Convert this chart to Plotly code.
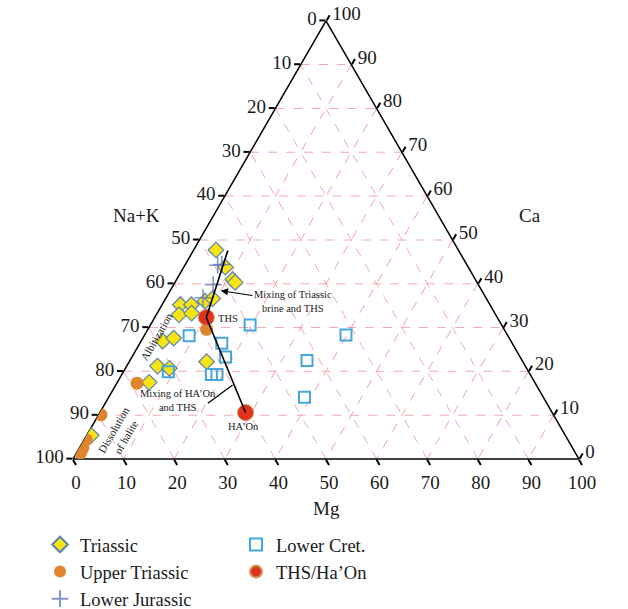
import math
import plotly.graph_objects as go

# ---- sample compositions (% of Ca, Na+K, Mg) ----
tri_ca = [47.7, 43.8, 40.9, 40.3, 35.2, 35.2, 32.9, 33.3, 36.0, 36.6, 26.9, 27.6, 22.2, 21.2, 20.7, 17.5, 5.4]
tri_nak = [47.9, 48.0, 48.0, 47.8, 61.2, 59.0, 62.6, 59.9, 55.9, 54.1, 68.8, 66.3, 62.5, 72.7, 70.6, 76.2, 93.7]
tri_mg = [4.4, 8.2, 11.1, 11.9, 3.6, 5.8, 4.5, 6.8, 8.1, 9.3, 4.3, 6.1, 15.3, 6.1, 8.7, 6.3, 0.9]

utri_ca = [29.6, 17.3, 10.1, 4.4, 2.5, 1.4]
utri_nak = [58.8, 78.7, 89.4, 95.2, 96.8, 97.8]
utri_mg = [11.6, 4.0, 0.5, 0.4, 0.7, 0.8]

ljur_ca = [44.2, 44.4, 39.8, 36.8]
ljur_nak = [49.3, 48.4, 52.4, 55.9]
ljur_mg = [6.5, 7.2, 7.8, 7.3]

lcret_ca = [28.1, 26.4, 23.3, 19.3, 19.3, 19.9, 30.6, 28.3, 22.5, 14.1]
lcret_nak = [63.0, 57.4, 58.2, 63.0, 61.9, 71.2, 49.7, 31.9, 42.5, 47.2]
lcret_mg = [8.9, 16.2, 18.5, 17.7, 18.8, 8.9, 19.7, 39.8, 35.0, 38.7]

end_names = ["THS", "HA\u2019On"]
end_ca = [32.3, 10.6]
end_nak = [57.5, 60.6]
end_mg = [10.2, 28.8]

# mixing trend: Triassic brine -> THS -> HA'On
mix_ca = [47.6, 32.3, 10.6]
mix_nak = [45.6, 57.5, 60.6]
mix_mg = [6.8, 10.2, 28.8]

# leader line for the HA'On / THS mixing label
lead_ca = [16.9, 12.7]
lead_nak = [60.0, 67.0]
lead_mg = [23.1, 20.3]

tick_vals = list(range(0, 101, 10))
tick_text = [str(100 - v) for v in tick_vals]

# ---- figure geometry (pixels) ----
FIG_W, FIG_H = 628, 609
TRI_W = 506
TRI_H = TRI_W * math.sqrt(3) / 2
TRI_X0 = 326 - TRI_W / 2   # left corner
TRI_YB = 459               # base line (from top)

SERIF = "Liberation Serif, Times New Roman, serif"
INK = "#1a1a1a"


def to_paper(ca, mg):
    """Ternary (Ca, Mg in %) -> paper coordinates of the figure."""
    a, c = ca / 100.0, mg / 100.0
    px = TRI_X0 + TRI_W * (c + a / 2)
    py = TRI_YB - TRI_H * a
    return px / FIG_W, 1 - py / FIG_H


def px_paper(px, py):
    return px / FIG_W, 1 - py / FIG_H


fig = go.Figure()

fig.add_trace(go.Scatterternary(
    a=tri_ca, b=tri_nak, c=tri_mg, mode="markers", name="Triassic",
    marker=dict(symbol="diamond", size=12, color="#F7E410",
                line=dict(color="#5C86B0", width=1.2)),
    legend="legend", legendrank=1,
))
fig.add_trace(go.Scatterternary(
    a=utri_ca, b=utri_nak, c=utri_mg, mode="markers", name="Upper Triassic",
    marker=dict(symbol="circle", size=13, color="#E0852F",
                line=dict(color="#E0852F", width=0)),
    legend="legend", legendrank=2,
))
fig.add_trace(go.Scatterternary(
    a=ljur_ca, b=ljur_nak, c=ljur_mg, mode="markers", name="Lower Jurassic",
    marker=dict(symbol="cross-thin", size=12,
                line=dict(color="rgba(90,115,185,0.75)", width=1.6)),
    legend="legend", legendrank=3,
))
fig.add_trace(go.Scatterternary(
    a=lcret_ca, b=lcret_nak, c=lcret_mg, mode="markers", name="Lower Cret.",
    marker=dict(symbol="square-open", size=11, color="#45A6DC",
                line=dict(color="#45A6DC", width=2)),
    legend="legend2", legendrank=1,
))
fig.add_trace(go.Scatterternary(
    a=end_ca, b=end_nak, c=end_mg, mode="markers", name="THS/Ha\u2019On",
    marker=dict(symbol="circle", size=16, color="#E2321C",
                line=dict(color="#C89A62", width=1)),
    legend="legend2", legendrank=2,
))
fig.add_trace(go.Scatterternary(
    a=mix_ca, b=mix_nak, c=mix_mg, mode="lines", showlegend=False,
    line=dict(color="black", width=1.6), hoverinfo="skip",
))
fig.add_trace(go.Scatterternary(
    a=lead_ca, b=lead_nak, c=lead_mg, mode="lines", showlegend=False,
    line=dict(color="black", width=1.3), hoverinfo="skip",
))

axis_common = dict(
    tickmode="array", tickvals=tick_vals, ticktext=tick_text,
    ticks="outside", ticklen=6, tickwidth=2, tickcolor="black",
    showline=True, linecolor="black", linewidth=1.5,
    showgrid=True, gridcolor="rgba(238,150,158,0.8)", gridwidth=1, griddash="dash",
    tickfont=dict(family=SERIF, size=19, color=INK),
    title=dict(text=""), layer="below traces",
)

dom_x = [TRI_X0 / FIG_W, (TRI_X0 + TRI_W) / FIG_W]
dom_y = [1 - TRI_YB / FIG_H, 1 - (TRI_YB - TRI_H) / FIG_H]

legend_common = dict(
    orientation="v", xanchor="left", yanchor="top", tracegroupgap=0,
    itemsizing="constant",
    font=dict(family=SERIF, size=18.5, color=INK),
    traceorder="normal", bgcolor="rgba(0,0,0,0)",
)
l1x, l1y = px_paper(40, 526)
l2x, l2y = px_paper(236, 526)

fig.update_layout(
    width=FIG_W, height=FIG_H,
    margin=dict(l=0, r=0, t=0, b=0, autoexpand=False),
    paper_bgcolor="white",
    ternary=dict(sum=100, domain=dict(x=dom_x, y=dom_y), bgcolor="white",
                 aaxis=axis_common, baxis=axis_common, caxis=axis_common),
    showlegend=True,
    legend=dict(x=l1x, y=l1y, **legend_common),
    legend2=dict(x=l2x, y=l2y, **legend_common),
    font=dict(family=SERIF),
)


def label(text, x, y, size=19, angle=0, color=INK):
    fig.add_annotation(text=text, x=x, y=y, xref="paper", yref="paper",
                       xanchor="center", yanchor="middle", showarrow=False,
                       textangle=angle, align="center",
                       font=dict(family=SERIF, size=size, color=color))


# axis titles
for txt, px, py in [("Na+K", 136, 215), ("Ca", 530, 215), ("Mg", 326, 508)]:
    label(txt, *px_paper(px, py))

# end-member labels
label("THS", *to_paper(32.0, 14.6), size=10.5, color="#222")
label("HA\u2019On", *to_paper(7.4, 30.0), size=10.5, color="#222")

# mixing labels
x, y = to_paper(35.9, 25.5)
hx, hy = to_paper(38.4, 10.0)
fig.add_annotation(text="Mixing of Triassic<br>brine and THS", x=hx, y=hy,
                   xref="paper", yref="paper", ax=(x - hx) * FIG_W, ay=-(y - hy) * FIG_H,
                   showarrow=True, arrowhead=2, arrowsize=1.2, arrowwidth=1.2,
                   arrowcolor="black", align="center",
                   font=dict(family=SERIF, size=10.5, color="#222"))

label("Mixing of HA\u2019On<br>and THS", *to_paper(13.3, 14.1), size=10.5, color="#222")
label("Albitization", *to_paper(27.9, 2.5), size=11, angle=-60, color="#222")
label("Dissolution<br>of halite", *to_paper(5.8, 6.2), size=11, angle=-60, color="#222")

fig.write_html("out.html")
